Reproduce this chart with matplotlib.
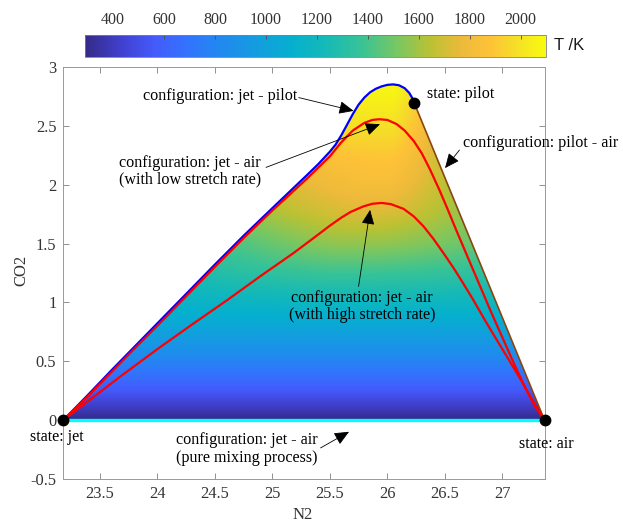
import numpy as np
import matplotlib
matplotlib.use('Agg')
import matplotlib.pyplot as plt
from matplotlib.colors import LinearSegmentedColormap
from matplotlib.patches import Polygon

plt.rcParams['font.family'] = ['Liberation Serif', 'DejaVu Serif']

# boundary states
jet = (23.185, 0.0)
air = (27.365, 0.0)
pilot = (26.235, 2.69)

# jet - pilot mixing line (blue)
blue_n2 = [23.185, 23.4, 23.6, 23.8, 24.0, 24.25, 24.5, 24.75, 25.0, 25.15, 25.3, 25.4, 25.5,
           25.55, 25.6, 25.65, 25.7, 25.75, 25.8, 25.85, 25.9, 25.95, 26.0, 26.05, 26.1,
           26.15, 26.19, 26.22, 26.235]
blue_co2 = [0.0, 0.215, 0.42, 0.62, 0.82, 1.07, 1.32, 1.565, 1.80, 1.94, 2.08, 2.175, 2.28,
            2.34, 2.42, 2.51, 2.60, 2.68, 2.74, 2.785, 2.815, 2.835, 2.848, 2.852, 2.845,
            2.82, 2.78, 2.73, 2.69]

# jet - air, low stretch rate (red)
lo_n2 = [23.185, 23.4, 23.6, 23.8, 24.0, 24.25, 24.5, 24.75, 25.0, 25.15, 25.3, 25.4, 25.5,
         25.6, 25.7, 25.8, 25.87, 25.93, 26.0, 26.08, 26.15, 26.23, 26.3, 26.37, 26.45,
         26.52, 26.6, 26.7, 26.8, 26.9, 27.0, 27.1, 27.2, 27.28, 27.365]
lo_co2 = [0.0, 0.205, 0.405, 0.605, 0.80, 1.05, 1.30, 1.545, 1.78, 1.915, 2.05, 2.145, 2.24,
          2.36, 2.46, 2.525, 2.55, 2.556, 2.55, 2.515, 2.46, 2.37, 2.265, 2.13, 1.96,
          1.80, 1.61, 1.38, 1.15, 0.92, 0.70, 0.48, 0.27, 0.12, 0.0]

# jet - air, high stretch rate (red)
hi_n2 = [23.185, 23.3, 23.448, 23.7, 24.026, 24.3, 24.605, 24.9, 25.186, 25.35, 25.505, 25.6,
         25.68, 25.79, 25.87, 25.95, 26.03, 26.14, 26.23, 26.315, 26.4, 26.49, 26.58, 26.66,
         26.75, 26.835, 26.92, 27.01, 27.1, 27.185, 27.27, 27.365]
hi_co2 = [0.0, 0.087, 0.197, 0.385, 0.62, 0.81, 1.017, 1.225, 1.42, 1.54, 1.655, 1.72,
          1.768, 1.815, 1.838, 1.845, 1.835, 1.795, 1.73, 1.645, 1.54, 1.415, 1.285, 1.16,
          1.015, 0.87, 0.73, 0.585, 0.44, 0.30, 0.15, 0.0]

t_co2 = [0.0, 0.25, 0.5, 0.75, 1.0, 1.25, 1.5, 1.75, 2.0, 2.25, 2.5, 2.75, 2.9]
t_val = [295, 560, 800, 1000, 1190, 1380, 1570, 1720, 1830, 1900, 1990, 2060, 2090]
rdrop_co2 = [0.0, 1.0, 1.5, 2.0, 2.35, 2.69, 2.9]
rdrop_val = [0, 0, 90, 190, 190, 110, 0]
ldrop_co2 = [0.0, 0.8, 1.5, 2.0, 2.4, 2.9]
ldrop_val = [0, 0, 150, 80, 0, 0]

cbar_ticks = [400, 600, 800, 1000, 1200, 1400, 1600, 1800, 2000]

parula = LinearSegmentedColormap.from_list('parula', [
    (0.00, (0.208, 0.166, 0.529)), (0.08, (0.255, 0.255, 0.820)),
    (0.15, (0.265, 0.355, 0.985)), (0.22, (0.200, 0.450, 0.995)),
    (0.30, (0.125, 0.545, 0.935)), (0.38, (0.070, 0.625, 0.870)),
    (0.45, (0.020, 0.690, 0.810)), (0.52, (0.080, 0.725, 0.720)),
    (0.60, (0.220, 0.765, 0.590)), (0.68, (0.480, 0.780, 0.380)),
    (0.75, (0.730, 0.760, 0.200)), (0.82, (0.930, 0.730, 0.230)),
    (0.88, (0.995, 0.760, 0.220)), (0.94, (0.960, 0.880, 0.150)),
    (1.00, (0.976, 0.983, 0.054))])

fig = plt.figure(figsize=(6.23, 5.24), dpi=100)
ax = fig.add_axes([0.1016, 0.0859, 0.7724, 0.7863])

# temperature field inside the envelope
env_n2 = blue_n2 + [air[0]]
env_co2 = blue_co2 + [air[1]]
gx = np.linspace(jet[0], air[0], 700)
gy = np.linspace(0, 2.9, 600)
X, Y = np.meshgrid(gx, gy)
upper = np.interp(gx, env_n2, env_co2)
inside = Y <= upper[None, :]
left = np.full(len(gy), jet[0])
right = np.full(len(gy), air[0])
for i in range(len(gy)):
    idx = np.where(inside[i])[0]
    if len(idx):
        left[i] = gx[idx[0]]
        right[i] = gx[idx[-1]]
s = (X - left[:, None]) / np.maximum(right - left, 1e-3)[:, None]
w_r = np.clip((s - 0.6) / 0.4, 0, 1) ** 1.3
w_l = np.clip((0.45 - s) / 0.45, 0, 1) ** 1.3
T = (np.interp(Y, t_co2, t_val) - np.interp(Y, rdrop_co2, rdrop_val) * w_r
     - np.interp(Y, ldrop_co2, ldrop_val) * w_l)

im = ax.imshow(T, extent=[gx[0], gx[-1], gy[0], gy[-1]], origin='lower', aspect='auto',
               cmap=parula, vmin=290, vmax=2100, interpolation='bilinear', zorder=1)
poly = Polygon(list(zip(env_n2, env_co2)), closed=True, transform=ax.transData)
im.set_clip_path(poly)

ax.plot([jet[0], air[0]], [0, 0], color='cyan', lw=2.4, zorder=3)
ax.plot(blue_n2, blue_co2, color='blue', lw=1.6, zorder=3)
ax.plot([pilot[0], air[0]], [pilot[1], air[1]], color=(0.55, 0.27, 0.05), lw=1.2, zorder=3)
ax.plot(lo_n2, lo_co2, color='red', lw=1.6, zorder=4)
ax.plot(hi_n2, hi_co2, color='red', lw=1.6, zorder=4)
for p in (jet, air, pilot):
    ax.plot(p[0], p[1], 'o', color='k', ms=7.5, zorder=6, clip_on=False)

fs = 11.6
ax.text(25.22, 2.75, 'configuration: jet - pilot', ha='right', va='center', fontsize=fs)
ax.text(23.67, 2.114, 'configuration: jet - air\n(with low stretch rate)', ha='left', va='center',
        fontsize=fs, linespacing=1.1)
ax.text(26.34, 2.768, 'state: pilot', ha='left', va='center', fontsize=fs)
ax.text(26.656, 2.358, 'configuration: pilot - air', ha='left', va='center', fontsize=fs)
ax.text(25.78, 0.963, 'configuration: jet - air\n(with high stretch rate)', ha='center', va='center',
        fontsize=fs, linespacing=1.1)
ax.text(24.164, -0.246, 'configuration: jet - air\n(pure mixing process)', ha='left', va='center',
        fontsize=fs, linespacing=1.1)
ax.text(22.896, -0.1415, 'state: jet', ha='left', va='center', fontsize=fs)
ax.text(27.147, -0.206, 'state: air', ha='left', va='center', fontsize=fs)

arrows = [
    ((25.23, 2.74), (25.707, 2.627)),
    ((24.946, 2.147), (25.936, 2.514)),
    ((26.626, 2.294), (26.501, 2.141)),
    ((25.75, 1.136), (25.85, 1.786)),
    ((25.42, -0.236), (25.667, -0.099)),
]
for tail, tip in arrows:
    ax.annotate('', xy=tip, xytext=tail, zorder=7,
                arrowprops=dict(arrowstyle='-|>,head_length=0.9,head_width=0.4',
                                color='k', lw=0.6, mutation_scale=10, shrinkA=0, shrinkB=0))

ax.set_xlim(jet[0], air[0])
ax.set_ylim(-0.5, 3)
ax.set_xticks([23.5, 24, 24.5, 25, 25.5, 26, 26.5, 27])
ax.set_xticklabels(['23.5', '24', '24.5', '25', '25.5', '26', '26.5', '27'])
ax.set_yticks([-0.5, 0, 0.5, 1, 1.5, 2, 2.5, 3])
ax.set_yticklabels(['-0.5', '0', '0.5', '1', '1.5', '2', '2.5', '3'])
ax.tick_params(direction='in', top=True, right=True, length=4, width=0.6, color='0.5',
               labelsize=11.8, labelcolor='0.2', pad=5)
for sp in ax.spines.values():
    sp.set_color('0.6')
    sp.set_linewidth(0.7)
ax.set_xlabel('N2', fontsize=12, color='0.2')
ax.set_ylabel('CO2', fontsize=12, color='0.2')
ax.xaxis.set_label_coords(0.498, -0.068)
ax.yaxis.set_label_coords(-0.07, 0.507)

cax = fig.add_axes([0.1364, 0.8912, 0.740, 0.042])
cb = fig.colorbar(im, cax=cax, orientation='horizontal', ticks=cbar_ticks)
cax.xaxis.set_ticks_position('top')
cax.xaxis.set_label_position('top')
cax.tick_params(direction='in', length=3, width=0.6, color='0.3', labelsize=11.5,
                labelcolor='0.2', pad=5)
cb.outline.set_edgecolor('0.5')
cb.outline.set_linewidth(0.6)
fig.text(0.889, 1 - 46 / 524, 'T /K', ha='left', va='center', fontsize=12,
         family='Liberation Sans', color='0.1')

fig.savefig('out.png', dpi=100)
